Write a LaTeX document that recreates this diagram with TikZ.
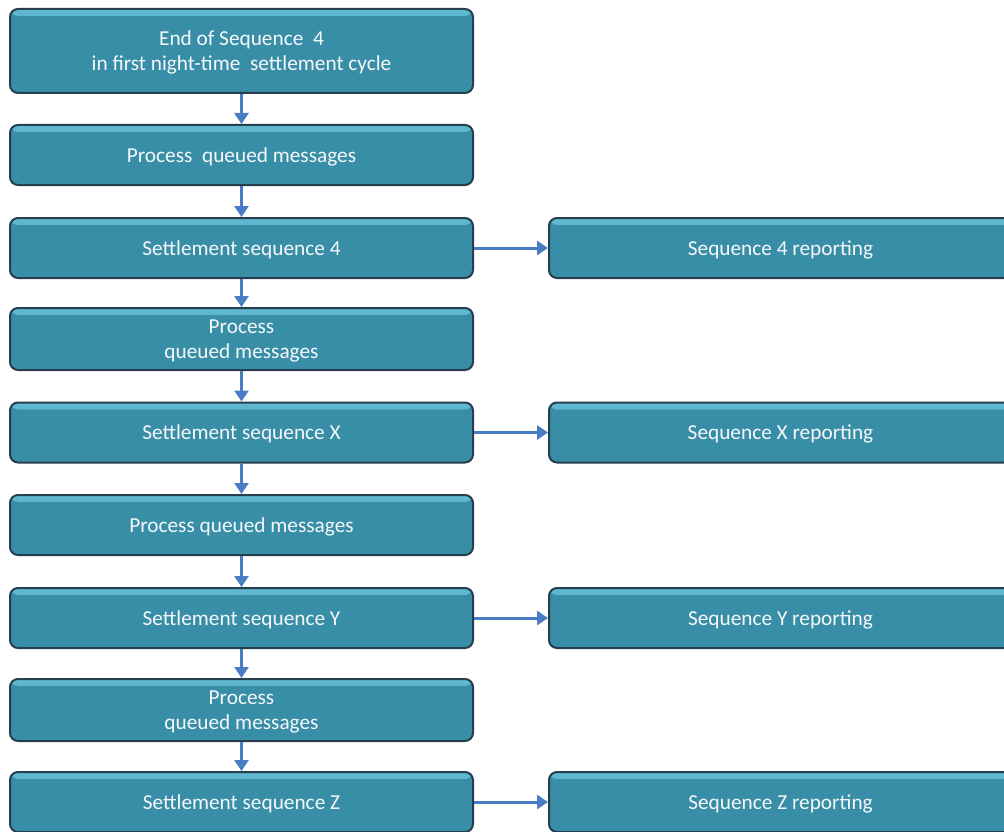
\documentclass[tikz,border=0pt]{standalone}
\usepackage{fontspec}
\setmainfont{Carlito}
\usetikzlibrary{arrows.meta}
\definecolor{boxfill}{RGB}{56,142,166}
\definecolor{boxlight}{RGB}{96,186,210}
\definecolor{boxedge}{RGB}{38,62,78}
\definecolor{arrowblue}{RGB}{72,125,196}
\definecolor{txt}{RGB}{245,248,250}
\tikzset{
  box/.style={draw=boxedge, line width=2pt, fill=boxfill, rounded corners=8pt,
    minimum width=463pt, minimum height=60pt, inner sep=0pt, text depth=0pt,
    align=center, text=txt, font=\fontsize{21.3}{25}\selectfont,
    path picture={\shade[top color=boxlight, bottom color=boxfill]
      (path picture bounding box.north west) rectangle
      ([yshift=-7pt]path picture bounding box.north east);}},
  flow/.style={draw=arrowblue, line width=3pt,
    -{Triangle[width=14pt,length=11pt]}}
}
\begin{document}
\begin{tikzpicture}[x=1pt,y=-1pt]
\useasboundingbox (0,0) rectangle (1004,832);
\clip (0,0) rectangle (1004,832);
\node[box, minimum height=84pt] (b1) at (241.5,51) {End of Sequence\ \ 4\\in first night-time\ \ settlement cycle};
\node[box] (b2) at (241.5,155) {Process\ \ queued messages};
\node[box] (b3) at (241.5,248) {Settlement sequence 4};
\node[box, minimum height=62pt] (b4) at (241.5,339) {Process\\queued messages};
\node[box] (b5) at (241.5,432.5) {Settlement sequence X};
\node[box] (b6) at (241.5,525) {Process queued messages};
\node[box] (b7) at (241.5,618) {Settlement sequence Y};
\node[box, minimum height=62pt] (b8) at (241.5,710) {Process\\queued messages};
\node[box] (b9) at (241.5,802) {Settlement sequence Z};
\node[box] (r3) at (780.5,248) {Sequence 4 reporting};
\node[box] (r5) at (780.5,432.5) {Sequence X reporting};
\node[box] (r7) at (780.5,618) {Sequence Y reporting};
\node[box] (r9) at (780.5,802) {Sequence Z reporting};
\foreach \a/\b in {b1/b2,b2/b3,b3/b4,b4/b5,b5/b6,b6/b7,b7/b8,b8/b9}
  \draw[flow] (\a.south) -- (\b.north);
\foreach \a/\b in {b3/r3,b5/r5,b7/r7,b9/r9}
  \draw[flow] (\a.east) -- (\b.west);
\end{tikzpicture}
\end{document}
